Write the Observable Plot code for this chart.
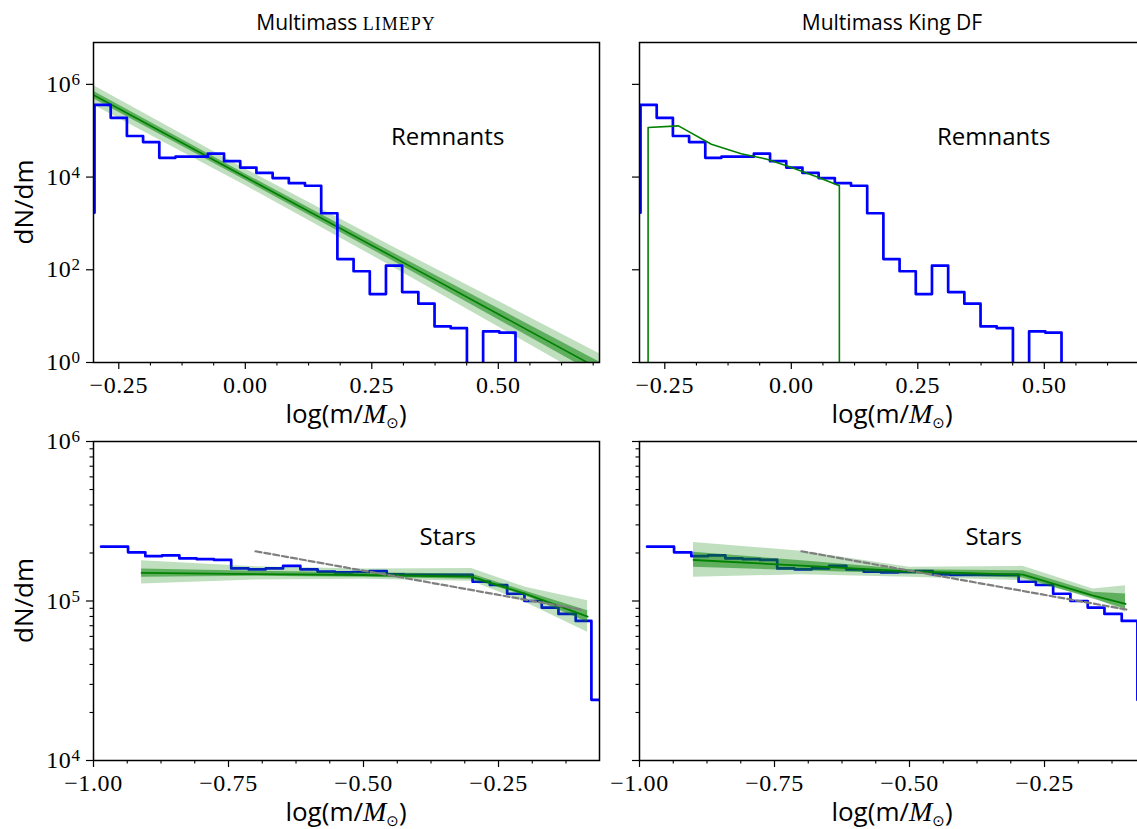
<!DOCTYPE html>
<html><head><meta charset="utf-8">
<script src="https://cdn.jsdelivr.net/npm/d3@7"></script>
<script src="https://cdn.jsdelivr.net/npm/@observablehq/plot@0.6"></script>
<style>
html,body{margin:0;padding:0;background:#fff;overflow:hidden;}
#wrap{position:relative;width:1137px;height:829px;overflow:hidden;background:#fff;}
</style></head><body><div id="wrap"></div>
<script>
// ---------------- DATA ----------------
// Remnants: observed histogram (log m bin edges, dN/dm per bin; 0 = empty bin)
const remEdges = [-0.298,-0.266,-0.234,-0.202,-0.170,-0.138,-0.106,-0.074,-0.042,-0.010,0.022,0.054,0.086,0.118,0.150,0.182,0.214,0.246,0.278,0.310,0.342,0.374,0.406,0.438,0.470,0.502,0.534];
const remCounts = [3.6e5,1.9e5,7.7e4,5.7e4,2.6e4,2.75e4,2.75e4,3.2e4,2.2e4,1.6e4,1.23e4,9.5e3,7.4e3,6.5e3,1.66e3,170,93,30,123,33,18.6,6.0,5.5,0,4.7,4.4];
const remStart = 1.7e3;

// Stars: observed histogram
const starEdges = [-0.986,-0.936,-0.904,-0.873,-0.841,-0.809,-0.777,-0.745,-0.713,-0.681,-0.649,-0.617,-0.585,-0.553,-0.521,-0.489,-0.457,-0.425,-0.393,-0.362,-0.330,-0.298,-0.266,-0.234,-0.202,-0.170,-0.139,-0.107,-0.078,-0.046];
const starCounts = [2.19e5,2.02e5,1.91e5,1.93e5,1.85e5,1.83e5,1.81e5,1.60e5,1.58e5,1.60e5,1.66e5,1.58e5,1.53e5,1.51e5,1.52e5,1.54e5,1.47e5,1.46e5,1.46e5,1.46e5,1.46e5,1.32e5,1.26e5,1.11e5,1.00e5,9.1e4,8.3e4,7.5e4,2.4e4];

// LIMEPY remnants model (median + 1σ / 2σ bands)
const limRemX = [-0.30, 0.0, 0.30, 0.70];
const limRemMid = [5.9e5, 1.0e4, 170, 0.72];
const limRemLightLo = [3.6e5, 6.6e3, 102, 0.34];
const limRemLightHi = [9.5e5, 1.5e4, 282, 1.55];
const limRemDarkLo = [4.9e5, 8.5e3, 138, 0.51];
const limRemDarkHi = [7.1e5, 1.17e4, 209, 1.02];

// King DF remnants model
const kingRemX = [-0.283,-0.283,-0.223,-0.158,-0.099,-0.048,-0.005,0.054,0.095,0.095];
const kingRemY = [0.01,1.17e5,1.27e5,5.1e4,3.2e4,2.43e4,1.7e4,9.8e3,6.5e3,0.01];

// LIMEPY stars model
const limStarX = [-0.911,-0.70,-0.50,-0.30,-0.20,-0.085];
const limStarMid = [1.50e5,1.476e5,1.455e5,1.42e5,1.107e5,7.98e4];
const limStarLightLo = [1.278e5,1.354e5,1.367e5,1.33e5,9.8e4,6.37e4];
const limStarLightHi = [1.79e5,1.64e5,1.585e5,1.60e5,1.218e5,1.005e5];
const limStarDarkLo = [1.407e5,1.427e5,1.407e5,1.367e5,1.08e5,7.35e4];
const limStarDarkHi = [1.585e5,1.534e5,1.505e5,1.476e5,1.15e5,8.7e4];

// King DF stars model
const kingStarX = [-0.90,-0.70,-0.50,-0.29,-0.16,-0.10];
const kingStarMid = [1.807e5,1.665e5,1.534e5,1.462e5,1.080e5,9.58e4];
const kingStarLightLo = [1.407e5,1.462e5,1.407e5,1.341e5,1.054e5,8.49e4];
const kingStarLightHi = [2.33e5,2.05e5,1.625e5,1.649e5,1.189e5,1.247e5];
const kingStarDarkLo = [1.625e5,1.549e5,1.476e5,1.393e5,1.029e5,8.91e4];
const kingStarDarkHi = [2.018e5,1.789e5,1.571e5,1.549e5,1.133e5,1.106e5];

// reference power law (dashed)
const powerLawX = [-0.70, -0.095];
const powerLawY = [2.05e5, 8.8e4];

// axes / ticks / text
const topXDomain = [-0.30, 0.70];
const topYDomain = [1, 8e6];
const botXDomain = [-1.0, -0.063];
const botYDomain = [1e4, 1e6];
const topXMajor = [-0.25, 0, 0.25, 0.5];
const topXMinor = [-0.1875,-0.125,-0.0625,0.0625,0.125,0.1875,0.3125,0.375,0.4375,0.5625,0.625,0.6875];
const botXMajor = [-1.0, -0.75, -0.5, -0.25];
const botXMinor = [-0.9375,-0.875,-0.8125,-0.6875,-0.625,-0.5625,-0.4375,-0.375,-0.3125,-0.1875,-0.125];
const topYMajor = [1, 1e2, 1e4, 1e6];
const botYMajor = [1e4, 1e5, 1e6];
const botYMinor = [2e4,3e4,4e4,5e4,6e4,7e4,8e4,9e4,2e5,3e5,4e5,5e5,6e5,7e5,8e5,9e5];
const titles = ["Multimass ", "LIMEPY", "Multimass King DF"];
const yLabel = "dN/dm";
const remLabel = {x: 0.40, y: 7.1e4, text: "Remnants"};
const starLabel = {x: -0.344, y: 2.52e5, text: "Stars"};

// ---------------- HELPERS ----------------
const SANS = "'Open Sans','DejaVu Sans',sans-serif";
const SERIF = "'Liberation Serif','DejaVu Serif',serif";
const FLOOR = 0.01;

function stepPts(edges, counts, start, dropToFloor) {
  const pts = [];
  if (start != null) pts.push({x: edges[0], y: start});
  counts.forEach((c, i) => pts.push({x: edges[i], y: c > 0 ? c : FLOOR}));
  pts.push({x: edges[edges.length - 1], y: dropToFloor ? FLOOR : counts[counts.length - 1]});
  return pts;
}
function bandRows(xs, mid, lLo, lHi, dLo, dHi) {
  return xs.map((x, i) => ({x, mid: mid[i], lLo: lLo[i], lHi: lHi[i], dLo: dLo[i], dHi: dHi[i]}));
}
function bandMarks(rows, lw) {
  return [
    Plot.areaY(rows, {x: "x", y1: "lLo", y2: "lHi", fill: "green", fillOpacity: 0.25, clip: true}),
    Plot.areaY(rows, {x: "x", y1: "dLo", y2: "dHi", fill: "green", fillOpacity: 0.5, clip: true}),
    Plot.line(rows, {x: "x", y: "mid", stroke: "green", strokeWidth: lw, clip: true})
  ];
}
const wrap = document.getElementById("wrap");

function panel(o) {
  const yfmt = o.yLabels ? (d => "10^" + Math.round(Math.log10(d))) : (() => "");
  const marks = [
    ...o.marks,
    Plot.axisX({ticks: o.xMajor, tickSize: 7, tickPadding: 6, tickFormat: d3.format(".2f"), label: null, strokeWidth: 1.2}),
    Plot.axisX({ticks: o.xMinor, tickSize: 3.5, tickFormat: () => "", label: null, strokeWidth: 1.1}),
    Plot.axisY({ticks: o.yMajor, tickSize: 7, tickPadding: 6, tickFormat: yfmt, label: null, strokeWidth: 1.2}),
    ...(o.yMinor ? [Plot.axisY({ticks: o.yMinor, tickSize: 3.5, tickFormat: () => "", label: null, strokeWidth: 1.1})] : []),
    Plot.frame({stroke: "black", strokeWidth: 1.5})
  ];
  const svg = Plot.plot({
    width: o.w, height: o.h,
    marginLeft: o.mL, marginRight: o.mR, marginTop: o.mT, marginBottom: o.mB,
    x: {domain: o.xDomain},
    y: {type: "log", domain: o.yDomain},
    style: {background: "transparent", fontFamily: SERIF, fontSize: "24px", color: "black", overflow: "visible"},
    marks
  });
  svg.style.position = "absolute";
  svg.style.left = o.left + "px";
  svg.style.top = o.top + "px";
  svg.style.maxWidth = "none";
  wrap.appendChild(svg);
  const s = d3.select(svg);
  // tick labels: serif font
  s.selectAll("g[aria-label*='tick label'] text").style("font-family", SERIF).style("font-size", "24px").style("letter-spacing", "0.6px");
  // superscript exponents
  s.selectAll("text").each(function () {
    const m = /^10\^(\d+)$/.exec(this.textContent);
    if (m) {
      const t = d3.select(this);
      t.text("10");
      t.append("tspan").attr("dy", "-0.42em").style("font-size", "17px").text(m[1]);
    }
  });
  const cx = o.mL + (o.w - o.mL - o.mR) / 2;
  const fb = o.h - o.mB;
  // x label log(m/M⊙)
  const xl = s.append("text").attr("x", cx).attr("y", fb + 61).attr("text-anchor", "middle")
    .style("font-family", SANS).style("font-size", "26px").attr("fill", "black");
  xl.append("tspan").text("log(m/");
  xl.append("tspan").style("font-family", SERIF).style("font-style", "italic").style("font-size", "28px").text("M");
  xl.append("tspan").style("font-family", "'DejaVu Sans',sans-serif").style("font-size", "15px").attr("dy", "5").text("⊙");
  xl.append("tspan").attr("dy", "-5").text(")");
  if (o.yTitle) {
    const cy = o.mT + (fb - o.mT) / 2;
    s.append("text").attr("transform", `translate(33,${cy}) rotate(-90)`).attr("text-anchor", "middle")
      .style("font-family", SANS).style("font-size", "26px").attr("fill", "black").text(yLabel);
  }
  if (o.title) {
    const t = s.append("text").attr("x", cx).attr("y", 30).attr("text-anchor", "middle")
      .style("font-family", SANS).style("font-size", "21px").attr("fill", "black");
    o.title.forEach((p, i) => {
      const sp = t.append("tspan").text(p);
      if (o.title.length > 1 && i === 1) sp.style("font-family", SERIF).style("font-size", "18px").style("letter-spacing", "1px");
    });
  }
  return svg;
}

const labelMark = (L) => Plot.text([L], {x: "x", y: "y", text: "text", fontFamily: SANS, fontSize: 24, fill: "black", textAnchor: "middle", lineAnchor: "middle"});

const remStep = stepPts(remEdges, remCounts, remStart, true);
const starStep = stepPts(starEdges, starCounts, null, false);
const blue = (pts) => Plot.line(pts, {x: "x", y: "y", curve: "step-after", stroke: "blue", strokeWidth: 2.7, clip: true});
const dashed = Plot.line(powerLawX.map((x, i) => ({x, y: powerLawY[i]})), {x: "x", y: "y", stroke: "#7f7f7f", strokeWidth: 2.2, strokeDasharray: "6,3", clip: true});

// top-left
panel({left: 0, top: 0, w: 620, h: 440, mL: 93, mR: 21, mT: 42, mB: 78,
  xDomain: topXDomain, yDomain: topYDomain, xMajor: topXMajor, xMinor: topXMinor, yMajor: topYMajor,
  yLabels: true, yTitle: true, title: [titles[0], titles[1]],
  marks: [...bandMarks(bandRows(limRemX, limRemMid, limRemLightLo, limRemLightHi, limRemDarkLo, limRemDarkHi), 1.6), blue(remStep), labelMark(remLabel)]});
// top-right
panel({left: 620, top: 0, w: 540, h: 440, mL: 19, mR: 15, mT: 42, mB: 78,
  xDomain: topXDomain, yDomain: topYDomain, xMajor: topXMajor, xMinor: topXMinor, yMajor: topYMajor,
  yLabels: false, yTitle: false, title: [titles[2]],
  marks: [blue(remStep), Plot.line(kingRemX.map((x, i) => ({x, y: kingRemY[i]})), {x: "x", y: "y", stroke: "green", strokeWidth: 1.6, clip: true}), labelMark(remLabel)]});
// bottom-left
panel({left: 0, top: 400, w: 620, h: 429, mL: 93, mR: 21, mT: 41, mB: 69,
  xDomain: botXDomain, yDomain: botYDomain, xMajor: botXMajor, xMinor: botXMinor, yMajor: botYMajor, yMinor: botYMinor,
  yLabels: true, yTitle: true,
  marks: [blue(starStep), ...bandMarks(bandRows(limStarX, limStarMid, limStarLightLo, limStarLightHi, limStarDarkLo, limStarDarkHi), 1.8), dashed, labelMark(starLabel)]});
// bottom-right
panel({left: 620, top: 400, w: 540, h: 429, mL: 19, mR: 15, mT: 41, mB: 69,
  xDomain: botXDomain, yDomain: botYDomain, xMajor: botXMajor, xMinor: botXMinor, yMajor: botYMajor, yMinor: botYMinor,
  yLabels: false, yTitle: false,
  marks: [blue(starStep), ...bandMarks(bandRows(kingStarX, kingStarMid, kingStarLightLo, kingStarLightHi, kingStarDarkLo, kingStarDarkHi), 1.8), dashed, labelMark(starLabel)]});
</script>
</body></html>
